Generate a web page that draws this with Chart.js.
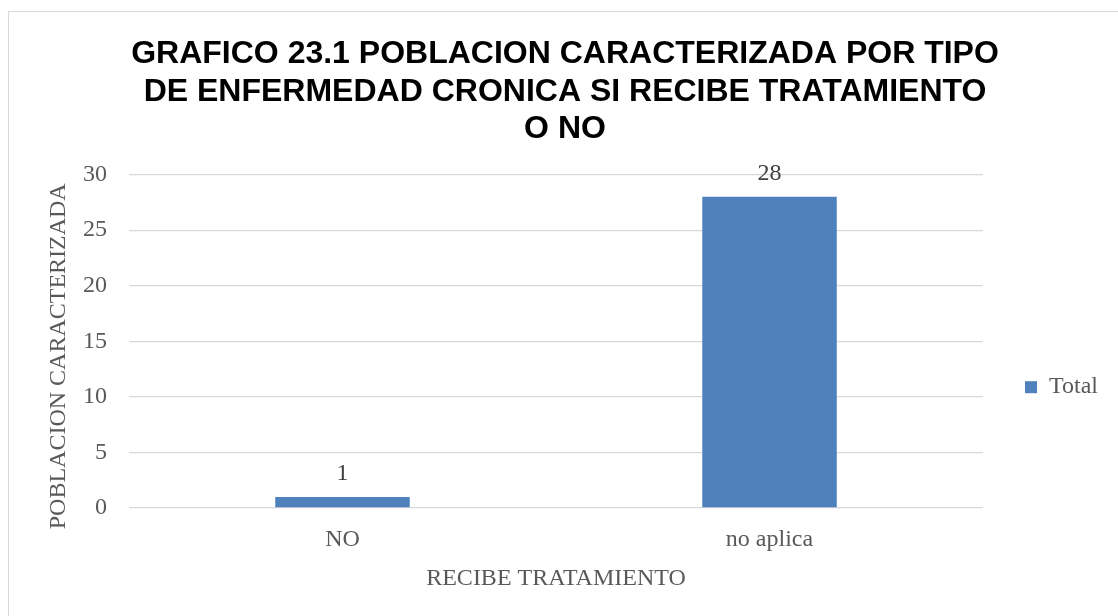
<!DOCTYPE html>
<html lang="es">

<head>
    <meta charset="UTF-8">
    <meta name="viewport" content="width=device-width, initial-scale=1.0">
    <title>Grafico 23.1</title>
    <script src="https://cdn.jsdelivr.net/npm/chart.js"></script>
    <style>
        body {
            margin: 0;
            overflow: hidden;
            background: #ffffff;
        }

        .marco {
            position: absolute;
            left: 8px;
            top: 11px;
            width: 1200px;
            height: 700px;
            border: 1px solid #d9d9d9;
        }

        .grafico {
            position: absolute;
            left: 0;
            top: 0;
            width: 1118px;
            height: 616px;
        }
    </style>
</head>

<body>

    <div class="marco"></div>
    <div class="grafico">
        <canvas id="grafico_tratamiento"></canvas>
    </div>

</body>

</html>

<script>

    // datos
    const categorias = ['NO', 'no aplica'];
    const totales = [1, 28];
    const nombreSerie = 'Total';

    const titulo = [
        'GRAFICO 23.1 POBLACION CARACTERIZADA POR TIPO',
        'DE ENFERMEDAD CRONICA SI RECIBE TRATAMIENTO',
        'O NO'
    ];
    const tituloEjeX = 'RECIBE TRATAMIENTO';
    // los espacios al final bajan un poco el texto, como en el original
    const tituloEjeY = 'POBLACION CARACTERIZADA     ';
    const ejeYMin = 0;
    const ejeYMax = 30;
    const ejeYPaso = 5;

    const fuenteSerif = "'Liberation Serif', 'Times New Roman', serif";
    const fuenteTitulo = "'Liberation Sans', Arial, sans-serif";

    // etiquetas con el valor encima de cada barra
    const etiquetasValor = {
        id: 'etiquetasValor',
        afterDatasetsDraw(chart) {
            const ctx = chart.ctx;
            ctx.save();
            ctx.font = `24px ${fuenteSerif}`;
            ctx.fillStyle = '#404040';
            ctx.textAlign = 'center';
            ctx.textBaseline = 'middle';
            chart.data.datasets.forEach((ds, i) => {
                chart.getDatasetMeta(i).data.forEach((barra, j) => {
                    ctx.fillText(ds.data[j], barra.x, barra.y - 23);
                });
            });
            ctx.restore();
        }
    };

    let dados = {
        labels: categorias,
        datasets: [{
            label: nombreSerie,
            data: totales,
            backgroundColor: '#4f81bd',
            borderWidth: 0,
            categoryPercentage: 1,
            barPercentage: 0.315
        }]
    };

    const config = {
        type: 'bar',
        data: dados,
        plugins: [etiquetasValor],
        options: {
            responsive: true,
            maintainAspectRatio: false,
            animation: false,
            layout: {
                padding: { left: 22, right: 10, top: 0, bottom: 0 }
            },
            plugins: {
                title: {
                    display: true,
                    text: titulo,
                    color: '#000000',
                    font: { family: fuenteTitulo, size: 32, weight: 'bold', lineHeight: 1.1625 },
                    padding: { top: 36, bottom: 27 }
                },
                legend: {
                    display: true,
                    position: 'right',
                    title: {
                        display: true,
                        text: '',
                        padding: { top: 144, bottom: 0 }
                    },
                    labels: {
                        boxWidth: 12,
                        boxHeight: 12,
                        padding: 42,
                        color: '#595959',
                        font: { family: fuenteSerif, size: 24 }
                    }
                },
                tooltip: { enabled: false }
            },
            scales: {
                x: {
                    grid: { display: false },
                    border: { display: false },
                    ticks: {
                        color: '#595959',
                        padding: 9,
                        font: { family: fuenteSerif, size: 24 }
                    },
                    title: {
                        display: true,
                        text: tituloEjeX,
                        color: '#595959',
                        font: { family: fuenteSerif, size: 24 },
                        padding: { top: 0, bottom: 23 }
                    },
                    afterFit(escala) {
                        escala.height = 108;
                    }
                },
                y: {
                    min: ejeYMin,
                    max: ejeYMax,
                    grid: {
                        color: '#d9d9d9',
                        lineWidth: 1.3,
                        drawTicks: false
                    },
                    border: { display: false },
                    ticks: {
                        stepSize: ejeYPaso,
                        color: '#595959',
                        padding: 22,
                        font: { family: fuenteSerif, size: 24 }
                    },
                    title: {
                        display: true,
                        text: tituloEjeY,
                        color: '#595959',
                        font: { family: fuenteSerif, size: 24 },
                        padding: { top: 22, bottom: 0 }
                    },
                    afterFit(escala) {
                        escala.width = 107;
                    }
                }
            }
        }
    };

    let myChart = new Chart(
        document.getElementById('grafico_tratamiento'),
        config
    );
</script>
